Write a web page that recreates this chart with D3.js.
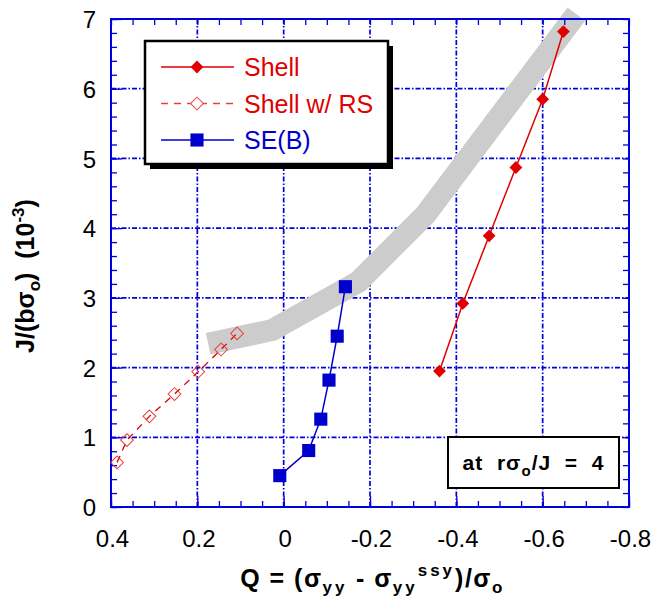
<!DOCTYPE html>
<html><head><meta charset="utf-8">
<script src="https://cdn.jsdelivr.net/npm/d3@7"></script>
<style>body{margin:0;background:#fff} svg{display:block} text{font-family:Arial,"Liberation Sans",sans-serif}</style>
</head><body><svg id="c" width="652" height="603"></svg>
<script>
// ---- data ----
const xTicks=[0.4,0.2,0,-0.2,-0.4,-0.6,-0.8];
const xTickLabels=["0.4","0.2","0","-0.2","-0.4","-0.6","-0.8"];
const yTicks=[0,1,2,3,4,5,6,7];
const yTickLabels=["0","1","2","3","4","5","6","7"];
const seriesNames=["Shell","Shell w/ RS","SE(B)"];
const shellQ=[-0.361,-0.415,-0.476,-0.538,-0.600,-0.648];
const shellJ=[1.95,2.92,3.89,4.87,5.85,6.82];
const rsQ=[0.386,0.363,0.311,0.253,0.198,0.145,0.108];
const rsJ=[0.64,0.96,1.30,1.62,1.94,2.26,2.49];
const seQ=[0.009,-0.058,-0.086,-0.105,-0.124,-0.143];
const seJ=[0.45,0.81,1.26,1.82,2.45,3.16];
const bandQ=[0.175,0.026,-0.173,-0.328,-0.678];
const bandJ=[2.34,2.54,3.23,4.19,7.07];

const L=111,T=19,W=518,H=488;
const svg=d3.select("#c");
const x=d3.scaleLinear().domain([0.4,-0.8]).range([L,L+W]);
const y=d3.scaleLinear().domain([0,7]).range([T+H,T]);
const BLUE="#0000dd", RED="#e00000", DBLUE="#0000cc";

// grid
const grid=svg.append("g").attr("stroke",BLUE).attr("stroke-width",1.7).attr("stroke-dasharray","5,2,1.5,2");
grid.selectAll(".gx").data(xTicks.slice(1,-1)).join("line")
  .attr("x1",d=>x(d)).attr("x2",d=>x(d)).attr("y1",T).attr("y2",T+H);
grid.selectAll(".gy").data(yTicks.slice(1,-1)).join("line")
  .attr("y1",d=>y(d)).attr("y2",d=>y(d)).attr("x1",L).attr("x2",L+W);

// band
svg.append("path").datum(bandQ.map((q,i)=>[q,bandJ[i]]))
  .attr("d",d3.line().x(d=>x(d[0])).y(d=>y(d[1])))
  .attr("fill","none").attr("stroke","#cccccc").attr("stroke-width",22)
  .attr("stroke-linejoin","miter");

// axes
const xMinor=d3.range(0.4,-0.801,-0.05).map(v=>+v.toFixed(2));
const yMinor=d3.range(0,7.001,0.2).map(v=>+v.toFixed(1));
function styleAx(g){g.select(".domain").remove();g.selectAll(".tick line").attr("stroke",BLUE).attr("stroke-width",1.3);}
svg.append("g").attr("transform",`translate(0,${T+H})`).call(d3.axisBottom(x).tickValues(xMinor).tickSize(-6).tickFormat("")).call(styleAx);
svg.append("g").attr("transform",`translate(0,${T})`).call(d3.axisTop(x).tickValues(xMinor).tickSize(-6).tickFormat("")).call(styleAx);
svg.append("g").attr("transform",`translate(${L},0)`).call(d3.axisLeft(y).tickValues(yMinor).tickSize(-6).tickFormat("")).call(styleAx);
svg.append("g").attr("transform",`translate(${L+W},0)`).call(d3.axisRight(y).tickValues(yMinor).tickSize(-6).tickFormat("")).call(styleAx);
svg.append("g").attr("transform",`translate(0,${T+H})`).call(d3.axisBottom(x).tickValues(xTicks).tickSize(-11).tickPadding(30).tickFormat((d,i)=>xTickLabels[i]))
  .call(g=>{styleAx(g);g.selectAll("text").attr("fill","#000").attr("font-size",24).attr("dy",0).attr("y",40).attr("dx",1);});
svg.append("g").attr("transform",`translate(${L},0)`).call(d3.axisLeft(y).tickValues(yTicks).tickSize(-11).tickPadding(20).tickFormat((d,i)=>yTickLabels[i]))
  .call(g=>{styleAx(g);g.selectAll("text").attr("fill","#000").attr("font-size",24).attr("x",-15).attr("dy","0.36em");});
svg.append("rect").attr("x",L).attr("y",T).attr("width",W).attr("height",H)
  .attr("fill","none").attr("stroke",BLUE).attr("stroke-width",2);

// series
const diamond=d3.symbol(d3.symbolSquare,82);
const square=d3.symbol(d3.symbolSquare,172);
function pts(qs,js){return qs.map((q,i)=>[q,js[i]]);}
const line=d3.line().x(d=>x(d[0])).y(d=>y(d[1]));
// RS
svg.append("path").datum(pts(rsQ,rsJ)).attr("d",line).attr("fill","none").attr("stroke",RED).attr("stroke-width",1.3).attr("stroke-dasharray","7,6");
svg.append("g").selectAll("path").data(pts(rsQ,rsJ)).join("path").attr("d",diamond)
  .attr("transform",d=>`translate(${x(d[0])},${y(d[1])}) rotate(45)`).attr("fill","none").attr("stroke","#e84040").attr("stroke-width",1);
// Shell
svg.append("path").datum(pts(shellQ,shellJ)).attr("d",line).attr("fill","none").attr("stroke",RED).attr("stroke-width",1.5);
svg.append("g").selectAll("path").data(pts(shellQ,shellJ)).join("path").attr("d",diamond)
  .attr("transform",d=>`translate(${x(d[0])},${y(d[1])}) rotate(45)`).attr("fill",RED);
// SE(B)
svg.append("path").datum(pts(seQ,seJ)).attr("d",line).attr("fill","none").attr("stroke",DBLUE).attr("stroke-width",1.5);
svg.append("g").selectAll("path").data(pts(seQ,seJ)).join("path").attr("d",square)
  .attr("transform",d=>`translate(${x(d[0])},${y(d[1])})`).attr("fill",DBLUE);

// legend
const lg=svg.append("g");
lg.append("rect").attr("x",150).attr("y",46).attr("width",243).attr("height",123).attr("fill","#000");
lg.append("rect").attr("x",145).attr("y",41).attr("width",243).attr("height",123).attr("fill","#fff").attr("stroke","#000").attr("stroke-width",2.5);
const rowsY=[67,103.5,140];
const lcol=[RED,RED,DBLUE];
seriesNames.forEach((n,i)=>{
  const g=lg.append("g");
  g.append("line").attr("x1",161).attr("x2",234).attr("y1",rowsY[i]).attr("y2",rowsY[i])
    .attr("stroke",i==1?"#e84040":lcol[i]).attr("stroke-width",1.3).attr("stroke-dasharray",i==1?"7,6":null);
  const m=g.append("path").attr("transform",`translate(197,${rowsY[i]})`+(i<2?" rotate(45)":""));
  if(i==0) m.attr("d",diamond).attr("fill",RED);
  if(i==1) m.attr("d",diamond).attr("fill","#fff").attr("stroke","#e84040");
  if(i==2) m.attr("d",square).attr("fill",DBLUE);
  g.append("text").attr("x",244).attr("y",rowsY[i]+9).attr("font-size",25).attr("fill",lcol[i]).text(n);
});

// annotation
svg.append("rect").attr("x",448).attr("y",437).attr("width",171).attr("height",51).attr("fill","#fff").attr("stroke","#000").attr("stroke-width",2);
const an=svg.append("text").attr("x",533.5).attr("y",470).attr("text-anchor","middle").attr("font-size",21).attr("font-weight","bold").style("white-space","pre").attr("letter-spacing",1);
an.append("tspan").text("at  rσ");
an.append("tspan").attr("font-size",15).attr("dy",6).text("o");
an.append("tspan").attr("dy",-6).text("/J  =  4");

// axis titles
const xt=svg.append("text").attr("x",372).attr("y",587).attr("text-anchor","middle").attr("font-size",25).attr("font-weight","bold").attr("letter-spacing",1.5).style("white-space","pre");
xt.append("tspan").text("Q = (σ");
xt.append("tspan").attr("font-size",17).attr("dy",6).attr("letter-spacing",3).text("yy");
xt.append("tspan").attr("dy",-6).text(" - σ");
xt.append("tspan").attr("font-size",17).attr("dy",6).attr("letter-spacing",3).text("yy");
xt.append("tspan").attr("font-size",17).attr("dy",-17).attr("letter-spacing",3).text("ssy");
xt.append("tspan").attr("dy",11).text(")/σ");
xt.append("tspan").attr("font-size",17).attr("dy",6).text("o");

const yt=svg.append("text").attr("transform","translate(34,276) rotate(-90)").attr("text-anchor","middle").attr("font-size",25).attr("font-weight","bold").style("white-space","pre");
yt.append("tspan").text("J/(bσ");
yt.append("tspan").attr("font-size",17).attr("dy",6).text("o");
yt.append("tspan").attr("dy",-6).text(")  (10");
yt.append("tspan").attr("font-size",17).attr("dy",-10).text("-3");
yt.append("tspan").attr("dy",10).text(")");
</script></body></html>
